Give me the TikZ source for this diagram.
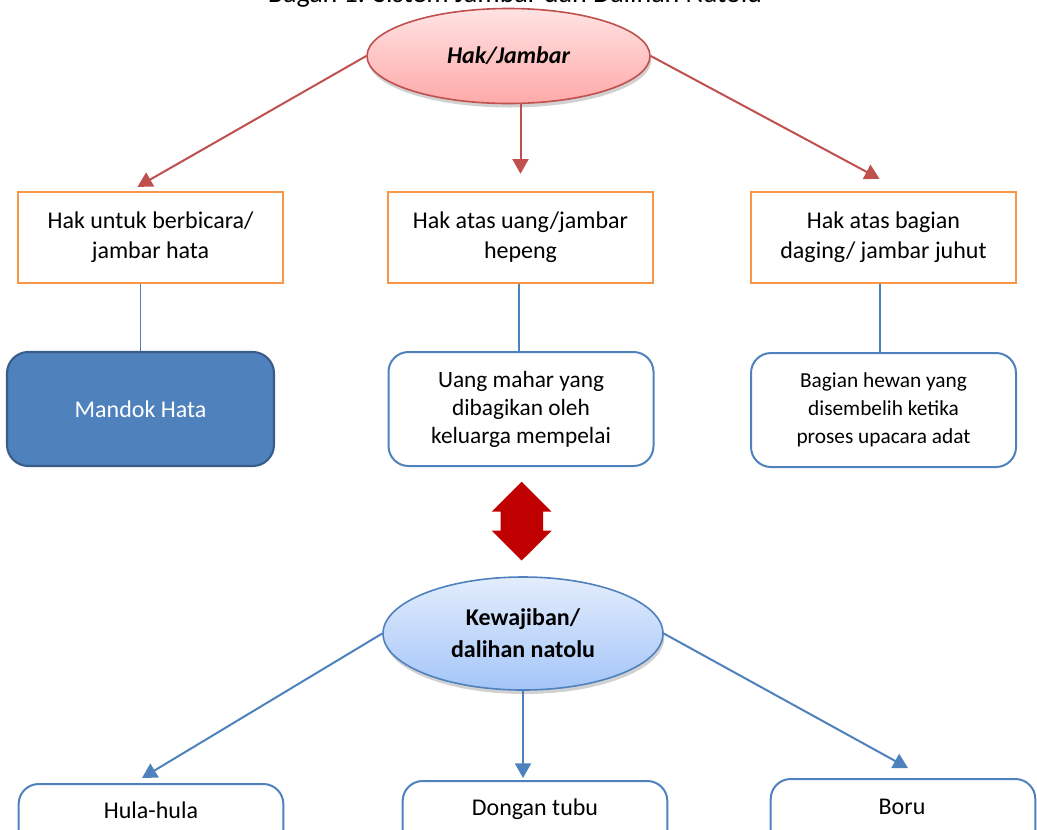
\documentclass[tikz,border=0pt]{standalone}
\usepackage{fontspec}
\setmainfont{Carlito}
\usetikzlibrary{arrows.meta,calc,shapes.geometric,shadows}
\definecolor{redln}{HTML}{C0504D}
\definecolor{orng}{HTML}{F79646}
\definecolor{bluln}{HTML}{4F81BD}
\definecolor{bludk}{HTML}{385D8A}
\definecolor{dred}{HTML}{C00000}
\definecolor{pinkA}{HTML}{FFE3E3}
\definecolor{pinkB}{HTML}{FFA9A9}
\definecolor{bluA}{HTML}{E3EDFC}
\definecolor{bluB}{HTML}{A4C5F8}
\begin{document}
\begin{tikzpicture}[x=0.75pt,y=-0.75pt,
  hakbox/.style={draw=orng, line width=1.8pt, fill=white, minimum width=198.75pt, minimum height=68.25pt, align=center, inner sep=0pt, font=\fontsize{18}{22.5}\selectfont},
  rbox/.style={draw=bluln, line width=1.5pt, rounded corners=15pt, fill=white, minimum width=198.75pt, minimum height=85.5pt, align=center, inner sep=0pt, font=\fontsize{16}{21}\selectfont},
  lowbox/.style={draw=bluln, line width=1.5pt, rounded corners=15pt, fill=white, minimum width=198.5pt, minimum height=67.5pt, anchor=north, inner sep=0pt},
  lowtext/.style={font=\fontsize{18}{22}\selectfont, inner sep=0pt},
  redarrow/.style={draw=redln, line width=1.5pt, -{Triangle[width=12pt,length=11pt]}},
  bluearrow/.style={draw=bluln, line width=1.5pt, -{Triangle[width=12pt,length=11pt]}},
  blueline/.style={draw=bluln, line width=1.1pt},
  softshadow/.style={drop shadow={shadow xshift=1pt, shadow yshift=-3pt, opacity=0.18, fill=black}}
]
\useasboundingbox (0,0) rectangle (1037,829);

% cut-off title
\node[anchor=base, font=\fontsize{21}{24}\selectfont, inner sep=0pt] (title) at (515,2) {Bagan 1. Sistem Jambar dan Dalihan Natolu};

% top ellipse
\node[ellipse, draw=redln, line width=1.2pt, top color=pinkA, bottom color=pinkB, minimum width=212.25pt, minimum height=71.25pt, inner sep=0pt, softshadow, font=\bfseries\itshape\fontsize{18}{20}\selectfont] (hak) at (508.5,56) {\raisebox{-3pt}{Hak/Jambar}};

% orange boxes
\node[hakbox] (h1) at (150.5,237.5) {Hak untuk berbicara/\\jambar hata};
\node[hakbox] (h2) at (520.5,237.5) {Hak atas uang/jambar\\hepeng};
\node[hakbox] (h3) at (883.5,237.5) {Hak atas bagian\\daging/ jambar juhut};

% red arrows
\draw[redarrow] (hak.west) -- ($(h1.north)+(-13,-4)$);
\draw[redarrow] (hak.south -| h2.north) -- ($(h2.north)+(0,-17)$);
\draw[redarrow] (hak.east) -- ($(h3.north)+(-4,-12)$);

% second row
\node[draw=bludk, fill=bluln, line width=1.6pt, rounded corners=16pt, minimum width=200.25pt, minimum height=85.5pt, inner sep=0pt, text=white, font=\fontsize{18}{22}\selectfont] (mh) at (140.5,409) {Mandok Hata};
\node[rbox, font=\fontsize{17.5}{21}\selectfont] (u2) at (521,409) {Uang mahar yang\\dibagikan oleh\\keluarga mempelai};
\node[rbox] (u3) at (883.5,410) {Bagian hewan yang\\disembelih ketika\\proses upacara adat};

\draw[blueline] (mh.north |- h1.south) -- (mh.north);
\draw[blueline] ($(h2.south)+(-1.5,0)$) -- ($(h2.south |- u2.north)+(-1.5,0)$);
\draw[blueline] ($(h3.south)+(-3.5,0)$) -- ($(h3.south |- u3.north)+(-3.5,0)$);

% double arrow
\fill[dred] (521.7,481.7) -- (551.7,511.7) -- (543,511.7) -- (543,530.7) -- (551.7,530.7) -- (521.7,560.5)
  -- (491.7,530.7) -- (500.5,530.7) -- (500.5,511.7) -- (491.7,511.7) -- cycle;

% bottom ellipse
\node[ellipse, draw=bluln, line width=1.2pt, top color=bluA, bottom color=bluB, minimum width=210pt, minimum height=84.75pt, inner sep=0pt, align=center, softshadow, font=\bfseries\fontsize{18}{24}\selectfont] (kw) at (523,633.5) {Kewajiban/\\dalihan natolu};

% bottom boxes
\node[lowbox] (hh) at (151,783) {};
\node[lowbox] (dt) at (535,780) {};
\node[lowbox] (bo) at (903,778) {};
\node[lowtext] (hht) at (151,810) {Hula-hula};
\node[lowtext] (dtt) at (535,809) {Dongan tubu};
\node[lowtext] (bot) at (902,807) {Boru};

% blue arrows
\draw[bluearrow] (kw.west) -- ($(hh.north)+(-9,-5)$);
\draw[bluearrow] (kw.south) -- ($(dt.north)+(-12,-2)$);
\draw[bluearrow] (kw.east) -- ($(bo.north)+(5,-10)$);
\end{tikzpicture}
\end{document}
